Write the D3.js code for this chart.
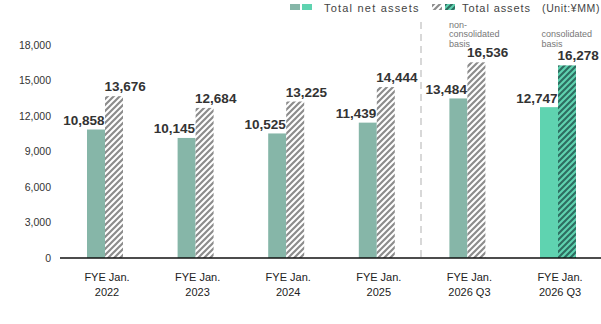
<!DOCTYPE html>
<html><head><meta charset="utf-8">
<script src="https://cdn.jsdelivr.net/npm/d3@7"></script>
<style>
body{margin:0;background:#fff;}
svg{display:block;font-family:"Liberation Sans",Arial,sans-serif;}
</style></head>
<body><svg id="c" width="601" height="324"></svg>
<script>
const categoryLine1 = ["FYE Jan.","FYE Jan.","FYE Jan.","FYE Jan.","FYE Jan.","FYE Jan."];
const categoryLine2 = ["2022","2023","2024","2025","2026 Q3","2026 Q3"];
const netAssets   = [10858, 10145, 10525, 11439, 13484, 12747];
const totalAssets = [13676, 12684, 13225, 14444, 16536, 16278];
const consolidated = [false,false,false,false,false,true];
const yTicks = [0,3000,6000,9000,12000,15000,18000];
const basisNotes = [null,null,null,null,["non-","consolidated","basis"],["consolidated","basis"]];
const legendLabels = ["Total net assets","Total assets","(Unit:¥MM)"];

const svg = d3.select("#c");
const W = 601, H = 324;
const y = d3.scaleLinear().domain([0,18000]).range([258,45]);
const idx = d3.range(categoryLine1.length);
const x0 = d3.scaleBand().domain(idx).range([59.7,603.3]).padding(0);
const x1 = d3.scaleBand().domain(["net","total"]).range([27.3,63.3]).padding(0);

const C = {net:"#86b6a8", netC:"#5fd3b0", stripe:"#8c8c8c", stripeC:"#2e6e61"};

const defs = svg.append("defs");
function hatch(id, bg, fg){
  const p = defs.append("pattern").attr("id",id).attr("patternUnits","userSpaceOnUse")
    .attr("width",6).attr("height",6);
  p.append("rect").attr("width",6).attr("height",6).attr("fill",bg);
  p.append("path").attr("d","M-1,1 l2,-2 M0,6 l6,-6 M5,7 l2,-2")
    .attr("stroke",fg).attr("stroke-width",2.2);
}
hatch("hg","#fff",C.stripe);
hatch("ht",C.netC,C.stripeC);

// y axis labels
const yAxis = d3.axisLeft(y).tickValues(yTicks).tickSize(0).tickPadding(0).tickFormat(d3.format(","));
const ga = svg.append("g").attr("transform","translate(51,0)").call(yAxis);
ga.select(".domain").remove();
ga.selectAll("text").attr("font-size",10.5).attr("fill","#333").attr("font-family","Liberation Sans, Arial, sans-serif");

// dashed separator
svg.append("line").attr("x1",421).attr("x2",421).attr("y1",22).attr("y2",258)
  .attr("stroke","#cfcfcf").attr("stroke-width",1.6).attr("stroke-dasharray","7,5");

// bars
const g = svg.append("g");
idx.forEach(i=>{
  const bx = x0(i);
  g.append("rect").attr("x",bx+x1("net")).attr("width",x1.bandwidth())
    .attr("y",y(netAssets[i])).attr("height",y(0)-y(netAssets[i]))
    .attr("fill",consolidated[i]?C.netC:C.net);
  g.append("rect").attr("x",bx+x1("total")).attr("width",x1.bandwidth())
    .attr("y",y(totalAssets[i])).attr("height",y(0)-y(totalAssets[i]))
    .attr("fill",consolidated[i]?"url(#ht)":"url(#hg)");
  g.append("text").attr("x",bx+x1("net")+x1.bandwidth()-0.5).attr("y",y(netAssets[i])-4.5)
    .attr("text-anchor","end").attr("font-size",13.5).attr("font-weight","bold").attr("fill","#333")
    .text(d3.format(",")(netAssets[i]));
  g.append("text").attr("x",bx+x1("total")-0.5).attr("y",y(totalAssets[i])-5)
    .attr("text-anchor","start").attr("font-size",13.5).attr("font-weight","bold").attr("fill","#333")
    .text(d3.format(",")(totalAssets[i]));
  const note = basisNotes[i];
  if(note){
    const nx = consolidated[i] ? bx+x1("net")+1.5 : bx+x1("net")-0.5;
    const t = svg.append("text").attr("font-size",9).attr("fill","#777")
      .attr("font-family","Liberation Sans, Arial, sans-serif");
    const n = note.length;
    note.forEach((ln,k)=>{
      t.append("tspan").attr("x",nx).attr("y",46.7-(n-1-k)*9.4).text(ln);
    });
  }
});

// baseline
svg.append("line").attr("x1",60).attr("x2",W).attr("y1",y(0)).attr("y2",y(0))
  .attr("stroke","#111").attr("stroke-width",1.5);

// x axis labels
const xAxis = d3.axisBottom(x0).tickSize(0).tickFormat(()=>"");
const gx = svg.append("g").attr("transform",`translate(0,${y(0)})`).call(xAxis);
gx.select(".domain").remove();
gx.selectAll(".tick").each(function(i){
  const t = d3.select(this).append("text").attr("fill","#222").attr("font-size",11)
    .attr("text-anchor","middle").attr("font-family","Liberation Sans, Arial, sans-serif");
  t.append("tspan").attr("x",2).attr("y",23).text(categoryLine1[i]);
  t.append("tspan").attr("x",2).attr("y",37.5).text(categoryLine2[i]);
});

// legend
const lg = svg.append("g");
lg.append("rect").attr("x",290).attr("y",4).attr("width",10).attr("height",6).attr("fill",C.net);
lg.append("rect").attr("x",302).attr("y",4).attr("width",10).attr("height",6).attr("fill",C.netC);
lg.append("text").attr("x",324).attr("y",11.5).attr("font-size",11).attr("letter-spacing",1.2)
  .attr("fill","#444").text(legendLabels[0]);
lg.append("rect").attr("x",432).attr("y",4).attr("width",10).attr("height",6).attr("fill","url(#hg)");
lg.append("rect").attr("x",445).attr("y",4).attr("width",10).attr("height",6).attr("fill","url(#ht)");
lg.append("text").attr("x",462).attr("y",11.5).attr("font-size",11).attr("letter-spacing",0.9)
  .attr("fill","#444").text(legendLabels[1]);
lg.append("text").attr("x",600).attr("y",11.5).attr("font-size",10.5).attr("letter-spacing",0.6)
  .attr("text-anchor","end").attr("fill","#444").text(legendLabels[2]);
</script></body></html>
